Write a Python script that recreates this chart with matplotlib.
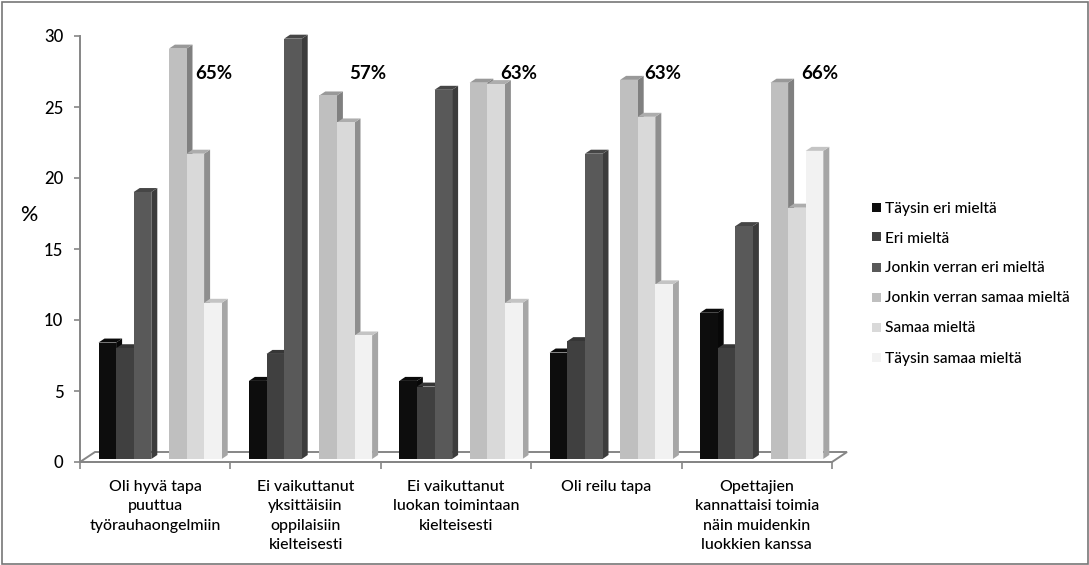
import numpy as np
import matplotlib
matplotlib.use("Agg")
import matplotlib.pyplot as plt
from matplotlib.patches import Polygon, Rectangle

plt.rcParams["font.family"] = ["Lato", "DejaVu Sans"]

groups = [
    "Oli hyvä tapa\npuuttua\ntyörauhaongelmiin",
    "Ei vaikuttanut\nyksittäisiin\noppilaisiin\nkielteisesti",
    "Ei vaikuttanut\nluokan toimintaan\nkielteisesti",
    "Oli reilu tapa",
    "Opettajien\nkannattaisi toimia\nnäin muidenkin\nluokkien kanssa",
]
series = [
    "Täysin eri mieltä",
    "Eri mieltä",
    "Jonkin verran eri mieltä",
    "Jonkin verran samaa mieltä",
    "Samaa mieltä",
    "Täysin samaa mieltä",
]
taysin_eri = [8.2, 5.5, 5.5, 7.5, 10.3]
eri = [7.8, 7.4, 5.1, 8.3, 7.8]
jonkin_eri = [18.8, 29.6, 26.0, 21.5, 16.4]
jonkin_samaa = [28.9, 25.6, 26.5, 26.7, 26.5]
samaa = [21.5, 23.7, 26.4, 24.1, 17.7]
taysin_samaa = [11.0, 8.7, 11.0, 12.3, 21.7]
values = [taysin_eri, eri, jonkin_eri, jonkin_samaa, samaa, taysin_samaa]
shares = ["65%", "57%", "63%", "63%", "66%"]

front_colors = ["#0d0d0d", "#404040", "#595959", "#bfbfbf", "#d9d9d9", "#f2f2f2"]
side_colors = ["#080808", "#2e2e2e", "#3c3c3c", "#808080", "#8f8f8f", "#a6a6a6"]
top_colors = ["#0a0a0a", "#363636", "#464646", "#999999", "#adadad", "#c4c4c4"]
slots = [0, 1, 2, 4, 5, 6]

W, H = 1089, 565
AX_L, AX_R, AX_TOP, AX_BOT = 80, 832, 36, 462
PX_X = (AX_R - AX_L) / 5
PX_Y = (AX_BOT - AX_TOP) / 30

fig = plt.figure(figsize=(W / 100, H / 100), dpi=100)
ax = fig.add_axes([AX_L / W, 1 - AX_BOT / H, (AX_R - AX_L) / W, (AX_BOT - AX_TOP) / H])
ax.set_xlim(0, 5)
ax.set_ylim(0, 30)
ax.patch.set_visible(False)

# thin frame, slightly inside the image edge
fig.add_artist(Rectangle((1.5 / W, 1.5 / H), (W - 3) / W, (H - 3) / H, transform=fig.transFigure,
                         fill=False, edgecolor="#777777", linewidth=1.2))

# depth of the fake 3D, in data units
dx = 6 / PX_X
dy = 4 / PX_Y
bar_w = 17.6 / PX_X
start = 18.5 / PX_X
base = 3 / PX_Y

# floor
floor_dx, floor_dy = 15 / PX_X, 10 / PX_Y
ax.add_patch(Polygon([(0, 0), (floor_dx, floor_dy), (5 + floor_dx, floor_dy), (5, 0)],
                     closed=True, facecolor="white", edgecolor="#868686", linewidth=1.4,
                     clip_on=False, zorder=1))

z = 2
for g in range(len(groups)):
    for s in range(len(series)):
        v = values[s][g]
        left = g + start + slots[s] * bar_w
        right = left + bar_w
        top = base + v
        ax.add_patch(Polygon([(right, base), (right + dx, base + dy), (right + dx, top + dy), (right, top)],
                             closed=True, facecolor=side_colors[s], edgecolor="none", clip_on=False, zorder=z))
        ax.add_patch(Polygon([(left, top), (left + dx, top + dy), (right + dx, top + dy), (right, top)],
                             closed=True, facecolor=top_colors[s], edgecolor="none", clip_on=False, zorder=z))
        ax.bar(left, v, width=bar_w, bottom=base, align="edge", color=front_colors[s],
               clip_on=False, zorder=z + 0.5)
        z += 1

for spine in ["top", "right"]:
    ax.spines[spine].set_visible(False)
for spine in ["left", "bottom"]:
    ax.spines[spine].set_color("#868686")
    ax.spines[spine].set_linewidth(1.4)
    ax.spines[spine].set_zorder(1.5)

ax.set_yticks(range(0, 31, 5))
ax.tick_params(axis="y", length=4, width=1.2, color="#868686", labelsize=12, pad=8, labelcolor="black")
ax.set_xticks(range(6))
ax.set_xticklabels([])
ax.tick_params(axis="x", which="major", length=5, width=1.2, color="#868686")
ax.set_xticks(np.arange(5) + 0.5, groups, minor=True)
ax.tick_params(axis="x", which="minor", length=0, pad=13, labelsize=11.4)
for label in ax.get_xticklabels(minor=True):
    label.set_linespacing(1.48)
    label.set_verticalalignment("top")
    label.set_fontweight("medium")
for label in ax.get_yticklabels():
    label.set_fontweight("medium")

share_px = [214, 368, 519, 663, 820]
for x, text in zip(share_px, shares):
    fig.text(x / W, 1 - 73 / H, text, ha="center", va="center", fontsize=13.5, fontweight="bold", zorder=50)

fig.text(29 / W, 1 - 215 / H, "%", ha="center", va="center", fontsize=15.5, fontweight="medium")

# legend
for i, name in enumerate(series):
    y = 207 + i * 30
    fig.add_artist(Rectangle((872 / W, 1 - (y + 4.5) / H), 9 / W, 9 / H, transform=fig.transFigure,
                             facecolor=front_colors[i], edgecolor="none"))
    fig.text(885 / W, 1 - (y + 1.5) / H, name, ha="left", va="center", fontsize=11.2, fontweight="medium")

fig.savefig("out.png", dpi=100)
